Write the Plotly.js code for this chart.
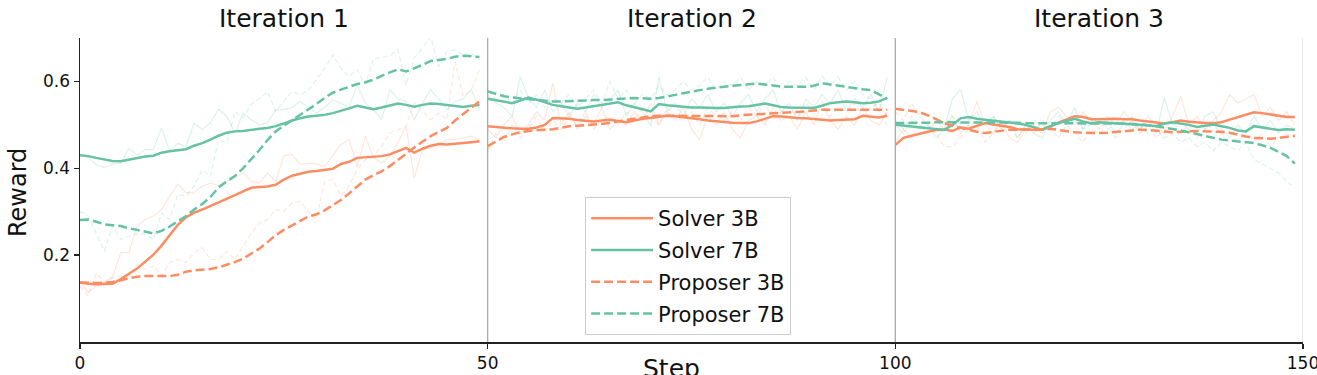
<!DOCTYPE html>
<html>
<head>
<meta charset="utf-8">
<script src="https://cdn.plot.ly/plotly-3.0.1.min.js"></script>
<style>html,body{margin:0;padding:0;background:#fff;}#chart{width:1317px;height:375px;}</style>
</head>
<body>
<div id="chart"></div>
<script>
// ---------- DATA ----------
const iterationTitles = ["Iteration 1", "Iteration 2", "Iteration 3"];
const iterationStarts = [0, 50, 100];
const stepsPerIteration = 50;
const xTickVals = [0, 50, 100, 150];
const yTickVals = [0.2, 0.4, 0.6];
const yTickText = ["0.2", "0.4", "0.6"];
const seriesNames = ["Solver 3B", "Solver 7B", "Proposer 3B", "Proposer 7B"];

// smoothed curves, steps 0..149
const solver3BSmooth = [
  .137,.134,.133,.133,.134,.145,.158,.169,.185,.201,.222,.246,.270,.287,.298,.305,.313,.322,.330,.338,
  .347,.355,.357,.358,.362,.374,.383,.388,.392,.394,.396,.399,.410,.415,.424,.425,.426,.428,.432,.440,
  .447,.436,.445,.452,.456,.455,.456,.458,.460,.462,
  .497,.495,.493,.492,.491,.491,.494,.500,.516,.515,.514,.511,.509,.508,.510,.512,.509,.506,.510,.514,
  .516,.518,.521,.520,.518,.516,.513,.510,.508,.506,.505,.504,.504,.508,.514,.520,.519,.517,.516,.515,
  .513,.511,.510,.511,.512,.513,.521,.519,.517,.521,
  .454,.470,.475,.480,.484,.488,.489,.486,.494,.491,.498,.504,.501,.498,.495,.490,.489,.489,.489,.496,
  .505,.512,.520,.518,.513,.513,.514,.514,.513,.513,.510,.508,.506,.503,.506,.510,.507,.505,.504,.504,
  .506,.512,.518,.524,.529,.527,.524,.520,.518,.518
];
const solver7BSmooth = [
  .430,.428,.424,.420,.417,.416,.420,.424,.427,.429,.436,.439,.441,.444,.452,.458,.466,.475,.482,.485,
  .486,.489,.491,.493,.497,.503,.510,.515,.519,.521,.523,.527,.532,.538,.544,.540,.536,.540,.545,.549,
  .546,.542,.546,.549,.548,.546,.543,.541,.544,.546,
  .560,.557,.553,.550,.556,.563,.558,.552,.546,.543,.540,.537,.540,.543,.546,.550,.552,.545,.541,.536,
  .531,.548,.545,.543,.541,.540,.540,.539,.539,.539,.541,.542,.543,.546,.549,.545,.541,.540,.540,.539,
  .539,.544,.550,.552,.554,.552,.550,.551,.554,.562,
  .500,.498,.497,.495,.492,.490,.488,.500,.515,.518,.514,.512,.510,.508,.506,.503,.500,.495,.489,.497,
  .504,.509,.514,.508,.504,.506,.505,.503,.502,.501,.500,.499,.497,.503,.506,.503,.500,.495,.498,.501,
  .497,.493,.487,.485,.497,.494,.490,.488,.490,.489
];
const proposer3BSmooth = [
  .137,.136,.136,.137,.138,.142,.147,.150,.152,.152,.152,.152,.155,.162,.165,.166,.168,.172,.178,.184,
  .192,.203,.215,.230,.246,.258,.268,.278,.289,.294,.303,.315,.327,.342,.358,.374,.384,.393,.405,.420,
  .435,.448,.461,.474,.484,.493,.510,.525,.540,.554,
  .451,.462,.472,.478,.483,.486,.488,.489,.490,.493,.497,.498,.499,.500,.502,.505,.508,.511,.514,.517,
  .520,.521,.521,.521,.520,.520,.520,.520,.520,.520,.520,.522,.523,.525,.526,.527,.527,.528,.529,.531,
  .533,.535,.535,.535,.535,.535,.534,.534,.535,.535,
  .537,.535,.532,.529,.522,.513,.504,.498,.493,.489,.484,.481,.484,.487,.489,.489,.489,.489,.490,.491,
  .488,.485,.483,.482,.481,.481,.482,.483,.485,.487,.489,.488,.486,.484,.483,.484,.485,.486,.485,.485,
  .484,.482,.477,.473,.470,.469,.468,.470,.473,.475
];
const proposer7BSmooth = [
  .281,.282,.277,.271,.269,.267,.262,.258,.254,.250,.256,.266,.278,.290,.305,.318,.334,.356,.370,.382,
  .400,.420,.442,.465,.485,.498,.510,.523,.535,.548,.562,.574,.581,.588,.594,.598,.604,.613,.621,.628,
  .623,.630,.638,.647,.650,.652,.657,.659,.658,.656,
  .577,.571,.566,.563,.561,.560,.558,.556,.554,.554,.555,.556,.556,.557,.557,.558,.559,.560,.562,.561,
  .560,.562,.565,.569,.573,.577,.580,.583,.586,.588,.590,.592,.594,.595,.593,.590,.588,.588,.588,.588,
  .590,.596,.593,.590,.587,.585,.582,.580,.569,.560,
  .504,.504,.505,.505,.505,.506,.506,.505,.505,.505,.505,.506,.506,.506,.505,.505,.504,.504,.503,.503,
  .503,.503,.503,.503,.503,.504,.504,.503,.503,.502,.501,.499,.497,.494,.491,.487,.483,.479,.474,.470,
  .466,.464,.462,.460,.458,.453,.447,.438,.428,.411
];

// raw (unsmoothed) curves, steps 0..149
const solver3BRaw = [
  .137,.114,.129,.137,.150,.206,.206,.267,.282,.290,.305,.336,.363,.344,.344,.359,.366,.360,.370,.378,
  .389,.370,.366,.389,.370,.428,.432,.409,.412,.410,.404,.430,.455,.466,.404,.474,.424,.412,.428,.460,
  .497,.378,.443,.447,.455,.466,.466,.470,.474,.466,
  .490,.470,.500,.520,.480,.500,.530,.510,.596,.500,.530,.490,.520,.500,.540,.490,.510,.500,.530,.510,
  .550,.500,.530,.510,.540,.490,.466,.520,.500,.530,.490,.470,.510,.520,.500,.540,.510,.520,.490,.530,
  .500,.550,.510,.490,.520,.500,.540,.510,.500,.530,
  .460,.490,.470,.500,.480,.510,.490,.520,.480,.500,.554,.500,.480,.510,.470,.460,.490,.500,.480,.530,
  .540,.520,.500,.530,.510,.490,.520,.500,.530,.510,.490,.520,.500,.480,.520,.566,.500,.520,.490,.510,
  .530,.570,.550,.560,.570,.520,.540,.510,.530,.500
];
const solver7BRaw = [
  .430,.425,.408,.402,.410,.412,.446,.431,.443,.443,.493,.440,.458,.450,.504,.489,.505,.536,.520,.481,
  .527,.512,.500,.505,.535,.535,.540,.554,.540,.527,.540,.558,.550,.540,.592,.550,.535,.512,.581,.560,
  .554,.512,.550,.581,.560,.535,.554,.560,.581,.535,
  .570,.550,.540,.520,.611,.560,.540,.580,.530,.550,.520,.550,.530,.570,.540,.560,.580,.520,.550,.530,
  .497,.611,.530,.550,.520,.560,.540,.570,.530,.550,.520,.550,.570,.530,.560,.580,.530,.550,.510,.560,
  .540,.570,.550,.580,.530,.560,.540,.570,.530,.611,
  .500,.480,.510,.490,.500,.470,.490,.560,.581,.510,.530,.500,.520,.490,.510,.470,.500,.480,.470,.510,
  .530,.500,.540,.490,.520,.500,.510,.480,.500,.520,.490,.510,.480,.563,.500,.510,.490,.480,.520,.530,
  .490,.470,.500,.480,.520,.490,.510,.480,.500,.490
];
const proposer3BRaw = [
  .129,.106,.159,.137,.148,.152,.152,.179,.167,.175,.152,.183,.190,.183,.206,.217,.190,.190,.209,.190,
  .221,.250,.274,.282,.305,.301,.320,.324,.300,.282,.370,.374,.336,.360,.397,.420,.428,.450,.481,.489,
  .497,.550,.530,.512,.527,.512,.646,.566,.581,.627,
  .440,.480,.460,.500,.470,.490,.520,.480,.510,.490,.520,.500,.530,.490,.510,.520,.500,.530,.510,.540,
  .520,.500,.540,.520,.510,.530,.500,.540,.520,.510,.530,.510,.540,.520,.550,.510,.530,.540,.520,.550,
  .530,.555,.520,.540,.530,.550,.520,.540,.550,.520,
  .530,.510,.550,.520,.500,.480,.450,.450,.470,.490,.500,.460,.480,.510,.490,.470,.500,.480,.510,.490,
  .470,.500,.480,.460,.490,.480,.500,.470,.490,.510,.480,.500,.470,.490,.510,.480,.500,.470,.490,.500,
  .480,.460,.470,.490,.460,.480,.450,.470,.480,.470
];
const proposer7BRaw = [
  .301,.290,.250,.209,.267,.236,.244,.250,.248,.236,.297,.282,.340,.336,.360,.397,.382,.466,.458,.531,
  .516,.547,.560,.577,.531,.554,.577,.569,.580,.604,.630,.661,.630,.611,.627,.592,.654,.654,.660,.673,
  .592,.654,.677,.703,.634,.669,.673,.661,.665,.650,
  .580,.560,.570,.550,.580,.550,.570,.540,.560,.550,.570,.540,.560,.580,.550,.600,.560,.580,.550,.570,
  .560,.590,.570,.580,.600,.580,.590,.610,.580,.600,.590,.610,.580,.600,.590,.610,.580,.600,.590,.610,
  .580,.613,.590,.610,.580,.600,.570,.560,.530,.500,
  .510,.490,.520,.500,.490,.510,.500,.520,.500,.490,.510,.500,.520,.490,.510,.500,.480,.510,.500,.490,
  .520,.500,.510,.490,.500,.510,.490,.500,.510,.490,.500,.480,.490,.470,.480,.460,.470,.450,.460,.440,
  .460,.450,.440,.460,.420,.410,.400,.390,.370,.355
];

// ---------- STYLE ----------
const ORANGE = "#fc8d62";
const GREEN = "#66c2a5";
const FONT = "DejaVu Sans, sans-serif";

const series = [
  {name: seriesNames[0], smooth: solver3BSmooth, raw: solver3BRaw, color: ORANGE, dash: "solid"},
  {name: seriesNames[1], smooth: solver7BSmooth, raw: solver7BRaw, color: GREEN, dash: "solid"},
  {name: seriesNames[2], smooth: proposer3BSmooth, raw: proposer3BRaw, color: ORANGE, dash: "9px,4px"},
  {name: seriesNames[3], smooth: proposer7BSmooth, raw: proposer7BRaw, color: GREEN, dash: "9px,4px"}
];

function hexA(hex, a) {
  const r = parseInt(hex.slice(1,3),16), g = parseInt(hex.slice(3,5),16), b = parseInt(hex.slice(5,7),16);
  return `rgba(${r},${g},${b},${a})`;
}

const traces = [];
// raw first (underneath)
series.forEach(s => {
  iterationStarts.forEach(st => {
    const xs = [], ys = [];
    for (let i = st; i < st + stepsPerIteration; i++) { xs.push(i); ys.push(s.raw[i]); }
    traces.push({
      x: xs, y: ys, type: "scatter", mode: "lines", showlegend: false, hoverinfo: "skip",
      line: {color: hexA(s.color, 0.22), width: 1.2, dash: s.dash === "solid" ? "solid" : "5px,3px"}
    });
  });
});
// smoothed
series.forEach(s => {
  iterationStarts.forEach((st, k) => {
    const xs = [], ys = [];
    for (let i = st; i < st + stepsPerIteration; i++) { xs.push(i); ys.push(s.smooth[i]); }
    traces.push({
      x: xs, y: ys, type: "scatter", mode: "lines", name: s.name, legendgroup: s.name,
      showlegend: k === 0,
      line: {color: s.color, width: 2.5, dash: s.dash}
    });
  });
});

const shapes = [50, 100, 150].map(v => ({
  type: "line", xref: "x", yref: "paper", x0: v, x1: v, y0: 0, y1: 1, layer: "below",
  line: {color: v === 150 ? "#dddddd" : "#aaaaaa", width: 1.3}
}));

const annotations = iterationTitles.map((t, k) => ({
  text: t, xref: "x", yref: "paper", x: iterationStarts[k] + 25, y: 1,
  xanchor: "center", yanchor: "bottom", yshift: 3, showarrow: false,
  font: {family: FONT, size: 25, color: "#111"}
}));
annotations.push({
  text: "Reward", xref: "paper", yref: "paper", x: 0, y: 0.49, xshift: -62,
  xanchor: "center", yanchor: "middle", textangle: -90, showarrow: false,
  font: {family: FONT, size: 24, color: "#111"}
});
annotations.push({
  text: "Step", xref: "paper", yref: "paper", x: 0.4833, y: 0, yshift: -10,
  xanchor: "center", yanchor: "top", showarrow: false,
  font: {family: FONT, size: 25, color: "#111"}
});

const layout = {
  width: 1317, height: 375,
  margin: {l: 80, r: 14, t: 38, b: 33, pad: 0},
  paper_bgcolor: "#fff", plot_bgcolor: "#fff",
  font: {family: FONT, size: 17, color: "#111"},
  showlegend: true,
  legend: {
    x: 0.413, y: 0.477, xanchor: "left", yanchor: "top",
    bgcolor: "rgba(255,255,255,0.9)", bordercolor: "#cccccc", borderwidth: 1,
    font: {family: FONT, size: 21, color: "#111"},
    tracegroupgap: 1.5, itemwidth: 62
  },
  xaxis: {
    range: [0, 150], tickvals: xTickVals, ticks: "outside", ticklen: 5, tickwidth: 1.3,
    tickcolor: "#222", showline: true, linecolor: "#222", linewidth: 1.5,
    showgrid: false, zeroline: false, ticklabeloverflow: "allow",
    tickfont: {family: FONT, size: 17, color: "#111"}
  },
  yaxis: {
    range: [0, 0.7], tickvals: yTickVals, ticktext: yTickText, ticks: "outside", ticklen: 5,
    tickwidth: 1.3, tickcolor: "#222", showline: true, linecolor: "#222", linewidth: 1.5,
    showgrid: false, zeroline: false, tickfont: {family: FONT, size: 17, color: "#111"}
  },
  shapes: shapes,
  annotations: annotations
};

Plotly.newPlot("chart", traces, layout, {staticPlot: true, displayModeBar: false});
</script>
</body>
</html>
